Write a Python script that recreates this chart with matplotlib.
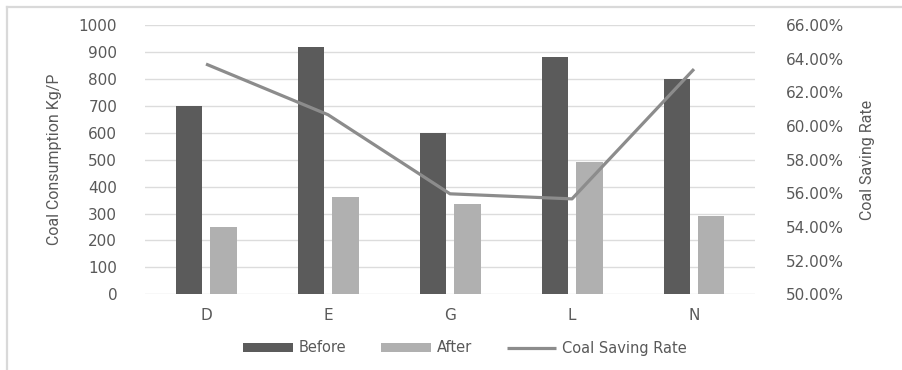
import matplotlib

matplotlib.use("Agg")
import matplotlib.pyplot as plt
import numpy as np
from matplotlib.font_manager import FontProperties
from matplotlib.lines import Line2D
from matplotlib.ticker import FuncFormatter

# boiler test results, coal use per unit and the resulting saving rate
units = ["D", "E", "G", "L", "N"]
before = [700, 920, 600, 880, 800]
after = [250, 360, 335, 490, 290]
saving_rate = [63.68, 60.67, 55.97, 55.67, 63.38]  # percent

C_BEFORE = "#5b5b5b"
C_AFTER = "#b0b0b0"
C_LINE = "#8c8c8c"
C_GRID = "#dcdcdc"
C_TEXT = "#595959"

plt.rcParams["font.family"] = ["DejaVu Sans"]
title_fp = FontProperties(family="Roboto", size=11.5)

fig = plt.figure(figsize=(9.02, 3.70), dpi=100)
ax = fig.add_axes([145 / 902, 75.7 / 370, 610 / 902, 269.3 / 370])
ax2 = ax.twinx()

x = np.arange(len(units))
w = 0.22
off = 0.14
ax.bar(x - off, before, w, color=C_BEFORE, label="Before", zorder=3)
ax.bar(x + off, after, w, color=C_AFTER, label="After", zorder=3)
ax2.plot(x, saving_rate, color=C_LINE, lw=2.3, solid_capstyle="butt",
         label="Coal Saving Rate", zorder=4)

ax.set_xlim(-0.5, len(units) - 0.5)
ax.set_ylim(0, 1000)
ax.set_yticks(range(0, 1001, 100))
ax2.set_ylim(50, 66)
ax2.set_yticks(range(50, 67, 2))
ax2.yaxis.set_major_formatter(FuncFormatter(lambda v, _: f"{v:.2f}%"))

ax.grid(axis="y", color=C_GRID, lw=1.0, zorder=0)
ax.set_axisbelow(True)
for a in (ax, ax2):
    for s in a.spines.values():
        s.set_visible(False)
    a.tick_params(length=0, labelsize=11, colors=C_TEXT)
ax.tick_params(axis="y", pad=20)
ax.tick_params(axis="x", pad=10)
ax2.tick_params(axis="y", pad=22)
ax.set_xticks(x)
ax.set_xticklabels(units)

ax.set_ylabel("Coal Consumption Kg/P", fontproperties=title_fp, color=C_TEXT, labelpad=12)
ax2.set_ylabel("Coal Saving Rate", fontproperties=title_fp, color=C_TEXT, labelpad=12)

h1, l1 = ax.get_legend_handles_labels()
h2, l2 = ax2.get_legend_handles_labels()
leg = fig.legend(h1 + h2, l1 + l2, loc="center", bbox_to_anchor=(465 / 902, 1 - 348 / 370),
                 ncol=3, frameon=False, prop=FontProperties(family="DejaVu Sans", size=10.5),
                 handlelength=3.4, handleheight=0.55, handletextpad=0.4, columnspacing=2.4,
                 labelcolor=C_TEXT)

# light frame along the top and left edge
fig.add_artist(Line2D([7 / 902, 1], [1 - 7 / 370, 1 - 7 / 370], color="#d9d9d9", lw=1.6))
fig.add_artist(Line2D([7 / 902, 7 / 902], [0, 1 - 7 / 370], color="#d9d9d9", lw=1.6))

fig.savefig("out.png", dpi=100)
